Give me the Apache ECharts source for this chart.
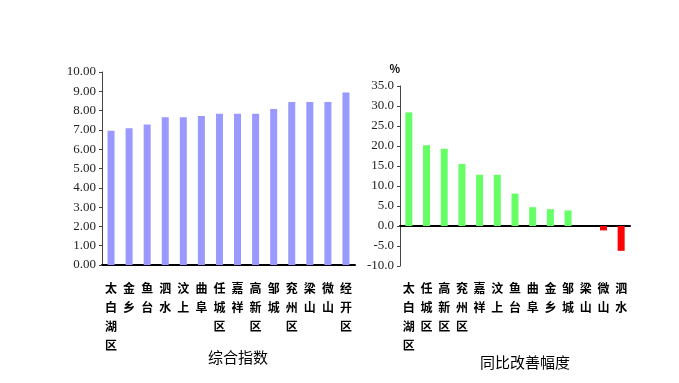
<!DOCTYPE html>
<html><head><meta charset="utf-8">
<script src="https://cdn.jsdelivr.net/npm/echarts@6/dist/echarts.min.js"></script>
<style>html,body{margin:0;padding:0;background:#fff}#c{width:679px;height:383px}</style>
</head><body><div id="c"></div>
<script>
const leftCats = ['太白湖区','金乡','鱼台','泗水','汶上','曲阜','任城区','嘉祥','高新区','邹城','兖州区','梁山','微山','经开区'];
const leftVals = [6.96, 7.09, 7.28, 7.66, 7.66, 7.72, 7.84, 7.84, 7.84, 8.08, 8.44, 8.44, 8.44, 8.94];
const rightCats = ['太白湖区','任城区','高新区','兖州区','嘉祥','汶上','鱼台','曲阜','金乡','邹城','梁山','微山','泗水'];
const rightVals = [28.4, 20.2, 19.3, 15.5, 12.8, 12.8, 8.1, 4.7, 4.2, 3.9, 0, -1.1, -6.2];
const leftTitle = '综合指数';
const rightTitle = '同比改善幅度';
const rightUnit = '%';

const vert = s => s.split('').join('\n');
const numFont = 'Liberation Sans Narrow';
const cjk = 'Noto Sans CJK SC';
const catLabel = {interval:0, formatter: vert, fontFamily: cjk, fontSize: 12, fontWeight: 'bold', color:'#000', lineHeight: 19, verticalAlign:'top', margin: 14};
const chart = echarts.init(document.getElementById('c'));
chart.setOption({
  animation:false,
  title:[
    {text:leftTitle, left:233, top:345, textAlign:'center', textStyle:{fontFamily:cjk, fontSize:15, fontWeight:'normal', color:'#000'}},
    {text:rightTitle, left:520, top:350, textAlign:'center', textStyle:{fontFamily:cjk, fontSize:15, fontWeight:'normal', color:'#000'}}
  ],
  grid:[
    {left:102, top:72, width:253, height:193},
    {left:400, top:86, width:230, height:180}
  ],
  xAxis:[
    {type:'category', gridIndex:0, data:leftCats,
     axisLine:{lineStyle:{color:'#000', width:2}},
     axisTick:{inside:true, length:6, lineStyle:{color:'#000'}},
     axisLabel:catLabel},
    {type:'category', gridIndex:1, data:rightCats, position:'bottom',
     axisLine:{show:false, onZero:false}, axisTick:{show:false},
     axisLabel:Object.assign({}, catLabel, {margin:13})},
    {type:'category', gridIndex:1, data:rightCats,
     axisLine:{onZero:true, lineStyle:{color:'#000', width:2}},
     axisTick:{inside:true, length:7, lineStyle:{color:'#000'}},
     axisLabel:{show:false}}
  ],
  yAxis:[
    {type:'value', gridIndex:0, min:0, max:10, interval:1,
     axisLine:{show:true, lineStyle:{color:'#444'}},
     axisTick:{show:true, length:3, lineStyle:{color:'#444'}},
     splitLine:{show:false},
     axisLabel:{formatter:v=>v.toFixed(2), fontFamily:numFont, fontSize:13, color:'#222', margin:6}},
    {type:'value', gridIndex:1, min:-10, max:35, interval:5,
     name:rightUnit, nameGap:12, nameTextStyle:{fontFamily:cjk, fontSize:11, fontWeight:'bold', color:'#000', align:'right', padding:[0,0,0,0]},
     axisLine:{show:true, lineStyle:{color:'#444'}},
     axisTick:{show:true, length:3, lineStyle:{color:'#444'}},
     splitLine:{show:false},
     axisLabel:{formatter:v=>v.toFixed(1), fontFamily:numFont, fontSize:13, color:'#222', margin:6}}
  ],
  series:[
    {type:'bar', xAxisIndex:0, yAxisIndex:0, data:leftVals, barWidth:7, itemStyle:{color:'#9999FF'}},
    {type:'bar', xAxisIndex:2, yAxisIndex:1, barWidth:7,
     data:rightVals.map(v=>({value:v, itemStyle:{color: v<0 ? '#FF0000' : '#66FF66'}}))}
  ]
});
</script></body></html>
